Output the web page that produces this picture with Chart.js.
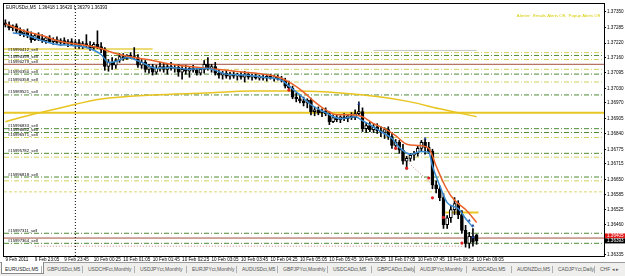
<!DOCTYPE html>
<html>
<head>
<meta charset="utf-8">
<script src="https://cdn.jsdelivr.net/npm/chart.js@4.4.1/dist/chart.umd.min.js"></script>
<style>
  html, body { margin:0; padding:0; background:#fff; }
  body { width:625px; height:276px; overflow:hidden; position:relative; font-family:"Liberation Sans", Arial, sans-serif; }
  #wrap { position:absolute; left:0; top:0; width:625px; height:262px; }
  #tabs { position:absolute; left:0; top:262px; width:625px; height:14px; background:#efefed; border-top:1px solid #9a9a9a; box-sizing:border-box; }
  .tab { position:absolute; top:3px; font-size:5px; line-height:7px; color:#555; white-space:nowrap; }
  .active { position:absolute; left:1px; top:-1px; width:43px; height:12px; background:#fff; border:1px solid #8a8a8a; border-top:none; box-sizing:border-box; }
  .sep { position:absolute; top:3px; width:1px; height:7px; background:#b0b0b0; }
</style>
</head>
<body>
<div id="wrap"><canvas id="c" width="625" height="262"></canvas></div>
<div id="tabs"></div>
<script>
// ---------------- data ----------------
const symbolTitle = 'EURUSDct,M5  1.36418 1.36420 1.36379 1.36393';
const alerterText = 'Alerter:  Emails Alerts Off,  Popup Alerts Off';

const xTickIdx = [0,8,16,24,32,40,48,56,64,72,80,88,96,104,112,120,128];
const xTickLabels = ['9 Feb 2011','9 Feb 23:05','9 Feb 23:45','10 Feb 00:25','10 Feb 01:05','10 Feb 01:45',
  '10 Feb 02:25','10 Feb 03:05','10 Feb 03:45','10 Feb 04:25','10 Feb 05:05','10 Feb 05:45','10 Feb 06:25',
  '10 Feb 07:05','10 Feb 07:45','10 Feb 08:25','10 Feb 09:05'];
const yTickValues = [1.37350,1.37285,1.37220,1.37160,1.37095,1.37030,1.36970,1.36905,1.36840,1.36775,
  1.36715,1.36650,1.36585,1.36525,1.36460,1.36335];

const open = [
1.37304,1.37296,1.37283,1.37292,1.37271,1.37259,1.37267,1.37251,1.37234,1.37251,
1.37238,1.37230,1.37242,1.37226,1.37234,1.37222,1.37230,1.37218,1.37226,1.37214,
1.37222,1.37205,1.37218,1.37210,1.37201,1.37214,1.37205,1.37193,1.37122,1.37139,
1.37127,1.37147,1.37163,1.37155,1.37168,1.37163,1.37159,1.37127,1.37139,1.37110,
1.37122,1.37098,1.37114,1.37122,1.37110,1.37122,1.37114,1.37118,1.37098,1.37110,
1.37102,1.37114,1.37106,1.37094,1.37110,1.37131,1.37114,1.37122,1.37094,1.37086,
1.37094,1.37081,1.37090,1.37081,1.37086,1.37077,1.37090,1.37077,1.37081,1.37073,
1.37077,1.37073,1.37081,1.37073,1.37077,1.37069,1.37065,1.37040,1.37032,1.36994,
1.36987,1.36978,1.36970,1.36982,1.36933,1.36941,1.36929,1.36937,1.36925,1.36891,
1.36908,1.36900,1.36912,1.36904,1.36916,1.36908,1.36925,1.36933,1.36862,1.36875,
1.36858,1.36870,1.36854,1.36846,1.36858,1.36829,1.36792,1.36805,1.36772,1.36726,
1.36738,1.36751,1.36759,1.36780,1.36805,1.36784,1.36767,1.36627,1.36611,1.36574,
1.36461,1.36490,1.36524,1.36549,1.36503,1.36437,1.36383,1.36412,1.36418];
const high = [
1.37317,1.37309,1.37296,1.37300,1.37283,1.37275,1.37279,1.37267,1.37259,1.37263,
1.37255,1.37246,1.37251,1.37242,1.37246,1.37238,1.37242,1.37234,1.37238,1.37230,
1.37234,1.37226,1.37255,1.37226,1.37222,1.37271,1.37222,1.37201,1.37151,1.37159,
1.37155,1.37176,1.37176,1.37172,1.37180,1.37201,1.37172,1.37151,1.37147,1.37131,
1.37131,1.37127,1.37139,1.37135,1.37131,1.37139,1.37131,1.37131,1.37122,1.37127,
1.37118,1.37127,1.37118,1.37114,1.37147,1.37159,1.37131,1.37139,1.37110,1.37102,
1.37106,1.37098,1.37102,1.37094,1.37098,1.37102,1.37098,1.37090,1.37090,1.37086,
1.37090,1.37086,1.37090,1.37086,1.37086,1.37081,1.37073,1.37061,1.37040,1.37011,
1.37003,1.36994,1.36987,1.36990,1.36953,1.36953,1.36945,1.36949,1.36933,1.36920,
1.36920,1.36916,1.36925,1.36920,1.36929,1.36941,1.36974,1.36949,1.36887,1.36891,
1.36883,1.36883,1.36870,1.36866,1.36870,1.36846,1.36817,1.36813,1.36797,1.36747,
1.36759,1.36767,1.36788,1.36813,1.36817,1.36805,1.36776,1.36644,1.36623,1.36590,
1.36499,1.36540,1.36574,1.36561,1.36520,1.36458,1.36429,1.36445,1.36420];
const low = [
1.37287,1.37275,1.37271,1.37263,1.37251,1.37246,1.37242,1.37222,1.37230,1.37230,
1.37222,1.37218,1.37222,1.37214,1.37218,1.37210,1.37214,1.37205,1.37210,1.37201,
1.37197,1.37197,1.37201,1.37189,1.37193,1.37197,1.37180,1.37106,1.37102,1.37110,
1.37114,1.37139,1.37147,1.37151,1.37155,1.37151,1.37118,1.37114,1.37098,1.37094,
1.37086,1.37090,1.37102,1.37098,1.37090,1.37106,1.37098,1.37081,1.37069,1.37090,
1.37077,1.37098,1.37086,1.37086,1.37094,1.37106,1.37098,1.37086,1.37073,1.37069,
1.37073,1.37069,1.37073,1.37065,1.37069,1.37057,1.37069,1.37065,1.37069,1.37065,
1.37065,1.37061,1.37069,1.37061,1.37065,1.37057,1.37032,1.37020,1.36987,1.36974,
1.36970,1.36957,1.36949,1.36920,1.36916,1.36920,1.36912,1.36916,1.36879,1.36887,
1.36891,1.36887,1.36896,1.36891,1.36900,1.36900,1.36916,1.36850,1.36846,1.36850,
1.36846,1.36842,1.36829,1.36821,1.36817,1.36780,1.36776,1.36759,1.36714,1.36693,
1.36726,1.36730,1.36747,1.36767,1.36755,1.36759,1.36611,1.36594,1.36561,1.36445,
1.36445,1.36470,1.36503,1.36486,1.36425,1.36367,1.36363,1.36371,1.36379];
const close = [
1.37296,1.37283,1.37292,1.37271,1.37259,1.37267,1.37251,1.37234,1.37251,1.37238,
1.37230,1.37242,1.37226,1.37234,1.37222,1.37230,1.37218,1.37226,1.37214,1.37222,
1.37205,1.37218,1.37210,1.37201,1.37214,1.37205,1.37193,1.37122,1.37139,1.37127,
1.37147,1.37163,1.37155,1.37168,1.37163,1.37159,1.37127,1.37139,1.37110,1.37122,
1.37098,1.37114,1.37122,1.37110,1.37122,1.37114,1.37118,1.37098,1.37110,1.37102,
1.37114,1.37106,1.37094,1.37110,1.37131,1.37114,1.37122,1.37094,1.37086,1.37094,
1.37081,1.37090,1.37081,1.37086,1.37077,1.37090,1.37077,1.37081,1.37073,1.37077,
1.37073,1.37081,1.37073,1.37077,1.37069,1.37065,1.37040,1.37032,1.36994,1.36987,
1.36978,1.36970,1.36982,1.36933,1.36941,1.36929,1.36937,1.36925,1.36891,1.36908,
1.36900,1.36912,1.36904,1.36916,1.36908,1.36925,1.36933,1.36862,1.36875,1.36858,
1.36870,1.36854,1.36846,1.36858,1.36829,1.36792,1.36805,1.36772,1.36726,1.36738,
1.36751,1.36759,1.36780,1.36805,1.36784,1.36767,1.36627,1.36611,1.36574,1.36461,
1.36490,1.36524,1.36549,1.36503,1.36437,1.36383,1.36412,1.36388,1.36393];

// indicator lines (bar index -> value)
const orangeMAIdx = [0,5,10,15,20,25,30,35,40,45,50,55,60,65,70,75,78,81,84,87,90,94,97,100,103,106,109,112,115,117,119,121,123,125,128];
const orangeMA = [1.37300,1.37271,1.37251,1.37226,1.37214,1.37201,1.37176,1.37159,1.37147,1.37131,
  1.37122,1.37114,1.37106,1.37098,1.37090,1.37073,1.37048,1.37015,1.36974,1.36941,
  1.36920,1.36920,1.36912,1.36883,1.36862,1.36833,1.36797,1.36792,1.36780,1.36706,
  1.36636,1.36582,1.36549,1.36524,1.36470];
const blueMAIdx = [2,6,10,14,18,22,26,28,30,33,37,41,45,50,55,60,65,70,75,77,80,83,87,91,95,97,100,102,105,107,110,113,115,116,118,120,123,125,127];
const blueMA = [1.37263,1.37251,1.37230,1.37214,1.37210,1.37201,1.37172,1.37139,1.37143,1.37159,
  1.37139,1.37114,1.37118,1.37110,1.37114,1.37090,1.37086,1.37077,1.37065,1.37040,
  1.37003,1.36962,1.36929,1.36904,1.36912,1.36896,1.36870,1.36850,1.36821,1.36784,
  1.36755,1.36767,1.36763,1.36706,1.36623,1.36553,1.36528,1.36487,1.36450];
const longMAIdx = [0,8,16,26,40,54,67,80,91,102,110,118,128];
const longMA = [1.36891,1.36924,1.36953,1.36986,1.37003,1.37011,1.37019,1.37019,1.37011,1.36994,1.36974,1.36945,1.36912];

// horizontal order / level lines
const levelPrices = [1.37180,1.37168,1.37151,1.37131,1.37110,1.37090,1.37057,1.37003,1.36929,
  1.36862,1.36846,1.36825,1.36759,1.36743,1.36660,1.36644,1.36598,1.36425,1.36405,1.36383];
const levelKinds = ['y','g','y','brown','y','g','y','g','gold',
  'g','g','y','g','y','g','y','yd','g','brown','g'];
const orderLabelLevels = [1.37180,1.37151,1.37131,1.37090,1.37057,1.37003,1.36862,1.36846,1.36825,1.36759,1.36660,1.36425,1.36383];
const orderLabels = ['#15990412_sell','#15990399_sell','#15990279_sell','#15990350_sell','#15990358_sell','#15989521_sell',
  '#15996833_sell','#15996852_sell','#15996571_sell','#15995782_sell','#15996818_sell','#15997311_sell','#15997364_sell'];

const shortGoldTop = {idx:[-0.4,40], price:1.37195};
const shortGoldBottom = {idx:[119.5,128.5], price:1.36512};
const shortGrey = {idx:[100,128], price:1.37189};
const pinkDotted = {idx:[8,124], price:1.36371};
const diagDotted = {idx:[109,117], price:[1.36726,1.36614]};
const daySeparatorIdx = 19;
const redMarkIdx = [77,106,109,115,116,119,124];
const redMarkVal = [1.37024,1.36780,1.36697,1.36656,1.36573,1.36491,1.36384];
const blueMarkIdx = [96,114,126,127,127];
const blueMarkVal = [1.36966,1.36821,1.36478,1.36457,1.36408];

const askPrice = 1.36405;
const bidPrice = 1.36393;

const tabNames = ['EURUSDct,M5','GBPUSDct,M5','USDCHFct,Monthly','USDJPYct,Monthly','EURJPYct,Monthly','AUDUSDct,M5',
  'GBPJPYct,Monthly','USDCADct,M5','GBPCADct,Daily','AUDJPYct,Monthly','AUDCADct,M5','AUDNZDct,M5','CADJPYct,Daily','CHF','\u25C2 \u25B8'];

// ---------------- layout / style ----------------
const X_MIN = -0.38, X_MAX = 162.6;
const Y_MIN = 1.36330, Y_MAX = 1.37383;
const tabLeft = [5,47,88,140,192,242,283,333,377,420,472,517,558,600,612];
const FONT = '"Liberation Sans", Arial, sans-serif';
const kindStyle = {
  g:{color:'#4e8c34', width:1, dash:[5,2,1,2]},
  y:{color:'#d2d05c', width:1, dash:[5,2,1,2]},
  yd:{color:'#dcd872', width:1, dash:[3,2]},
  brown:{color:'#a2503e', width:1, dash:[]},
  gold:{color:'#e8c626', width:2, dash:[]}
};

// tabs
const tabsEl = document.getElementById('tabs');
const act = document.createElement('div'); act.className = 'active'; tabsEl.appendChild(act);
tabNames.forEach((t,k) => {
  const s = document.createElement('span'); s.className = 'tab'; s.textContent = t;
  s.style.left = tabLeft[k] + 'px'; if (k === 0) s.style.color = '#222';
  tabsEl.appendChild(s);
  if (k > 0 && k < tabNames.length - 1) { const d = document.createElement('div'); d.className = 'sep'; d.style.left = (tabLeft[k]-6) + 'px'; tabsEl.appendChild(d); }
});

// ---------------- chart ----------------
Chart.defaults.font.family = FONT;
const idx = open.map((_, i) => i);
const wickData = idx.map(i => ({x:i, y:[low[i], high[i]]}));
const bodyData = idx.map(i => ({x:i, y:[open[i], close[i]]}));
const bodyColors = idx.map(i => close[i] >= open[i] ? '#ffffff' : '#000000');
const pts = (ix, vals) => ix.map((x,k) => ({x, y: Array.isArray(vals) ? vals[k] : vals}));

const datasets = [];
levelPrices.forEach((p,k) => {
  const st = kindStyle[levelKinds[k]];
  datasets.push({type:'line', data:[{x:X_MIN,y:p},{x:X_MAX,y:p}], borderColor:st.color, borderWidth:st.width,
    borderDash:st.dash, pointRadius:0, order:10});
});
datasets.push({type:'line', data:pts(shortGoldTop.idx, shortGoldTop.price), borderColor:'#e6d04a', borderWidth:1.5, pointRadius:0, order:10});
datasets.push({type:'line', data:pts(shortGoldBottom.idx, shortGoldBottom.price), borderColor:'#e8c626', borderWidth:2, pointRadius:0, order:10});
datasets.push({type:'line', data:pts(shortGrey.idx, shortGrey.price), borderColor:'#c4c4c4', borderWidth:1, pointRadius:0, order:10});
datasets.push({type:'line', data:pts(pinkDotted.idx, pinkDotted.price), borderColor:'#d08c8c', borderWidth:1, borderDash:[1,2], pointRadius:0, order:10});
datasets.push({type:'line', data:pts(diagDotted.idx, diagDotted.price), borderColor:'#b88080', borderWidth:1, borderDash:[1,2], pointRadius:0, order:10});
datasets.push({type:'line', data:[{x:daySeparatorIdx,y:Y_MIN},{x:daySeparatorIdx,y:Y_MAX}], borderColor:'#000', borderWidth:1, borderDash:[1,2], pointRadius:0, order:9});
datasets.push({type:'line', data:pts(longMAIdx, longMA), borderColor:'#e8c420', borderWidth:1.5, pointRadius:0, cubicInterpolationMode:'monotone', order:8});
datasets.push({type:'bar', data:wickData, backgroundColor:'#000', borderWidth:0, barThickness:1, grouped:false, order:6});
datasets.push({type:'bar', data:bodyData, backgroundColor:bodyColors, borderColor:'#000', borderWidth:1, borderSkipped:false,
  barThickness:3, grouped:false, minBarLength:1, order:5});
datasets.push({type:'line', data:pts(orangeMAIdx, orangeMA), borderColor:'#e8622a', borderWidth:1.5, pointRadius:0, cubicInterpolationMode:'monotone', order:3});
datasets.push({type:'line', data:pts(blueMAIdx, blueMA), borderColor:'#3a8ad0', borderWidth:1.5, pointRadius:0, cubicInterpolationMode:'monotone', order:2});
datasets.push({type:'scatter', data:pts(redMarkIdx, redMarkVal), backgroundColor:'#e02020', borderWidth:0, pointRadius:1.6, order:1});
datasets.push({type:'scatter', data:pts(blueMarkIdx, blueMarkVal), backgroundColor:'#2040a0', borderWidth:0, pointStyle:'triangle', pointRadius:1.8, order:1});

const overlay = {
  id:'overlay',
  afterDatasetsDraw(chart) {
    const {ctx, chartArea:a, scales:{y}} = chart;
    ctx.save();
    ctx.fillStyle = '#000'; ctx.textAlign = 'left'; ctx.textBaseline = 'alphabetic';
    ctx.font = '4.2px ' + FONT;
    orderLabels.forEach((t,k) => ctx.fillText(t, a.left + 4, y.getPixelForValue(orderLabelLevels[k]) - 1.5));
    ctx.font = '4.5px ' + FONT; ctx.textBaseline = 'middle';
    ctx.fillText(symbolTitle, a.left + 2, a.top + 4);
    ctx.font = '4.3px ' + FONT; ctx.fillStyle = '#d6cc00'; ctx.textAlign = 'right';
    ctx.fillText(alerterText, a.right - 4, a.top + 12);
    ctx.strokeStyle = '#000'; ctx.lineWidth = 1;
    ctx.strokeRect(Math.floor(a.left) - 0.5, Math.floor(a.top) - 0.5, Math.round(a.right - a.left) + 1, Math.round(a.bottom - a.top) + 1);
    ctx.restore();
  },
  afterDraw(chart) {
    const {ctx, chartArea:a, scales:{y}} = chart;
    const yb = y.getPixelForValue(bidPrice);
    const ya = Math.min(y.getPixelForValue(askPrice), yb - 5);
    const box = (cy, bg, txt) => {
      ctx.fillStyle = bg; ctx.fillRect(a.right + 1, cy - 2.5, 625 - a.right - 1, 5);
      ctx.fillStyle = '#fff'; ctx.font = '4.6px ' + FONT; ctx.textAlign = 'left'; ctx.textBaseline = 'middle';
      ctx.fillText(txt, a.right + 3, cy + 0.3);
    };
    ctx.save();
    box(ya, '#e01818', askPrice.toFixed(5));
    box(yb, '#000', bidPrice.toFixed(5));
    ctx.restore();
  }
};

new Chart(document.getElementById('c'), {
  type:'bar',
  data:{datasets},
  options:{
    responsive:false, animation:false, events:[], devicePixelRatio:1,
    layout:{padding:{left:1, top:1, right:0, bottom:0}},
    plugins:{legend:{display:false}, tooltip:{enabled:false}},
    scales:{
      x:{type:'linear', min:X_MIN, max:X_MAX, offset:false,
        grid:{display:true, drawOnChartArea:false, tickLength:1, color:'#000'},
        border:{display:true, color:'#000'},
        ticks:{autoSkip:false, maxRotation:0, minRotation:0, align:'start', padding:0, color:'#000',
          font:{size:4.6}, callback:(v,i) => xTickLabels[i]},
        afterBuildTicks:s => { s.ticks = xTickIdx.map(v => ({value:v})); },
        afterFit:s => { s.height = 6; s.paddingLeft = 0; s.paddingRight = 0; }
      },
      y:{type:'linear', position:'right', min:Y_MIN, max:Y_MAX,
        grid:{display:true, drawOnChartArea:false, tickLength:2, color:'#000'},
        border:{display:true, color:'#000'},
        ticks:{autoSkip:false, padding:1, color:'#000', font:{size:4.6}, callback:v => Number(v).toFixed(5)},
        afterBuildTicks:s => { s.ticks = yTickValues.map(v => ({value:v})); },
        afterFit:s => { s.width = 21; s.paddingTop = 0; s.paddingBottom = 0; }
      }
    }
  },
  plugins:[overlay]
});
</script>
</body>
</html>
